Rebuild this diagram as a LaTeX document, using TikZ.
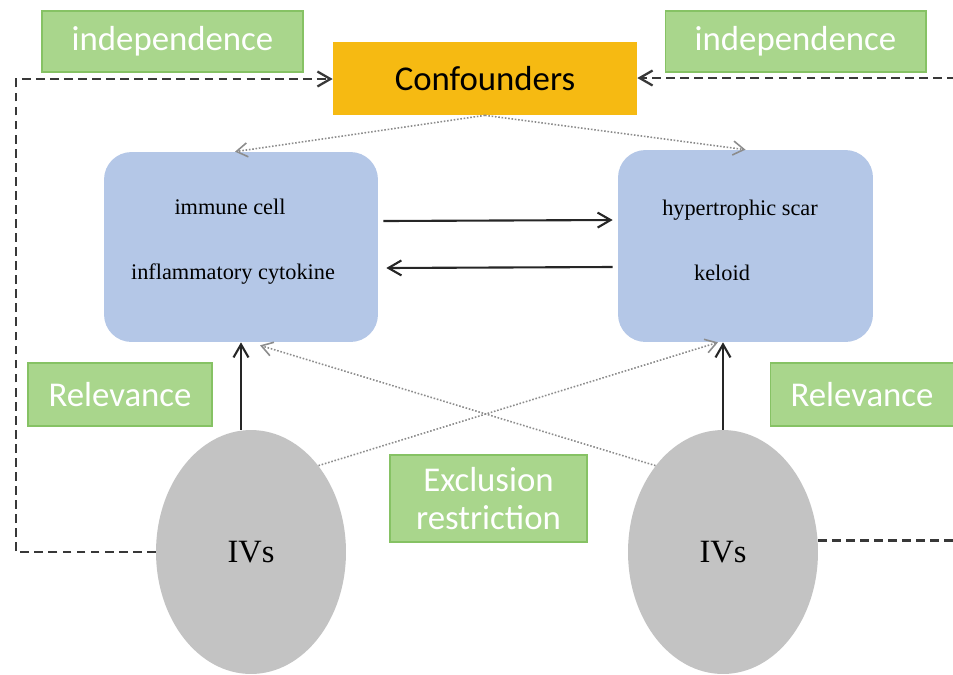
\documentclass[tikz,border=0pt]{standalone}
\usepackage{fontspec}
\setmainfont{Liberation Serif}
\newfontfamily\calibrifont{Carlito}
\definecolor{LabelGreen}{HTML}{A9D68C}
\definecolor{LabelEdge}{HTML}{86C264}
\definecolor{TraitBlue}{HTML}{B4C7E7}
\definecolor{ConfGold}{HTML}{F6BA12}
\definecolor{IvGray}{HTML}{C3C3C3}
\definecolor{LinkGray}{HTML}{8C8C8C}
\usetikzlibrary{positioning, arrows.meta, shapes.geometric}

\begin{document}
\begin{tikzpicture}[x=0.02cm, y=-0.02cm,
  greenlabel/.style={draw=LabelEdge, line width=0.6pt, fill=LabelGreen, text=white,
    font=\calibrifont\fontsize{19.8}{21.5}\selectfont, inner sep=0pt, align=center},
  traitbox/.style={fill=TraitBlue, rounded corners=0.55cm, inner sep=0pt},
  traittext/.style={font=\fontsize{12.7}{15}\selectfont, inner sep=0pt},
  ivnode/.style={ellipse, fill=IvGray, inner sep=0pt, minimum width=3.8cm,
    minimum height=4.88cm, font=\fontsize{18.5}{22}\selectfont},
  solidarrow/.style={-{Straight Barb[length=2.6mm, width=3mm]}, line width=1.2pt, black!85},
  dotarrow/.style={-{Straight Barb[length=2.2mm, width=2.8mm]}, densely dotted,
    line width=0.9pt, LinkGray},
  dasharrow/.style={dash pattern=on 5pt off 3pt, line width=1.3pt, black!78}]
  \useasboundingbox (0,0) rectangle (953,674);

  % Labels for the three assumptions
  \node[greenlabel, minimum width=5.22cm, minimum height=1.22cm] (indepl) at (172.5,41.5) {independence};
  \node[greenlabel, minimum width=5.22cm, minimum height=1.22cm] (indepr) at (795.5,41.5) {independence};
  \node[greenlabel, minimum width=3.68cm, minimum height=1.26cm] (relevl) at (120,394.5) {Relevance};
  \node[greenlabel, minimum width=3.68cm, minimum height=1.26cm] (relevr) at (862,394.5) {Relevance};
  \node[greenlabel, minimum width=3.94cm, minimum height=1.74cm] (exclus) at (488.5,498.5) {Exclusion\\restriction};

  % Confounders
  \node[fill=ConfGold, minimum width=6.08cm, minimum height=1.46cm, inner sep=0pt,
    font=\calibrifont\fontsize{19.8}{22}\selectfont] (conf) at (485,78.5) {Confounders};

  % Exposure and outcome
  \node[traitbox, minimum width=5.48cm, minimum height=3.8cm] (lbox) at (241,247) {};
  \node[traitbox, minimum width=5.1cm, minimum height=3.84cm] (rbox) at (745.5,246) {};
  \node[traittext] (immune) at (230,207) {immune cell};
  \node[traittext] (cytokine) at (233,274) {inflammatory cytokine};
  \node[traittext] (scar) at (740,210) {hypertrophic scar};
  \node[traittext] (keloid) at (722,273) {keloid};

  % Instruments
  \node[ivnode] (livs) at (251,552) {IVs};
  \node[ivnode] (rivs) at (723,552) {IVs};

  % Causal links
  \draw[solidarrow] ([yshift=0.52cm,xshift=0.1cm]lbox.east) -- ([yshift=0.52cm,xshift=-0.1cm]rbox.west);
  \draw[solidarrow] ([yshift=-0.42cm,xshift=-0.1cm]rbox.west) -- ([yshift=-0.42cm,xshift=0.16cm]lbox.east);
  \draw[solidarrow] (lbox.south |- livs.north) -- (lbox.south);
  \draw[solidarrow] (rivs.north) -- (rivs.north |- rbox.south);

  % Confounding and pleiotropy
  \draw[dotarrow] (conf.south) -- ([xshift=-0.12cm]lbox.north);
  \draw[dotarrow] (conf.south) -- (rbox.north);
  \draw[dotarrow] (livs.52) -- ([xshift=-0.55cm]rbox.south);
  \draw[dotarrow] (rivs.128) -- ([xshift=0.38cm,yshift=-0.06cm]lbox.south);

  % Independence paths
  \coordinate (lrail) at (16,79);
  \coordinate (rrail) at (965,78);
  \draw[dasharrow, -{Straight Barb[length=2.6mm, width=3mm]}] (livs.west) -| (lrail) -- (conf.west |- lrail);
  \draw[dasharrow, -{Straight Barb[length=2.6mm, width=3mm]}] (rivs.7) -| (rrail) -- (conf.east |- rrail);
\end{tikzpicture}
\end{document}
